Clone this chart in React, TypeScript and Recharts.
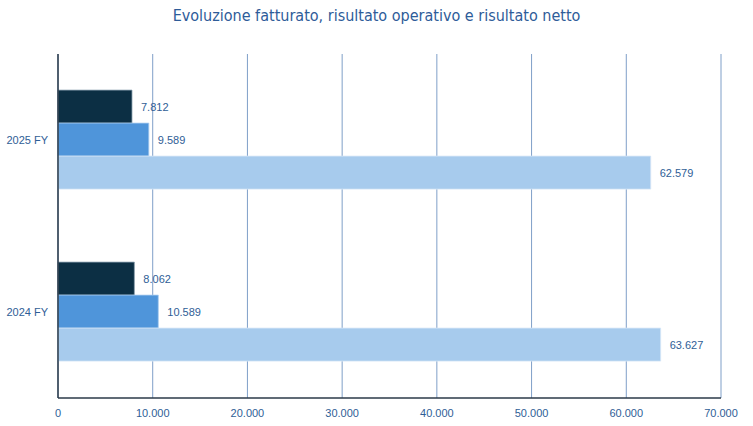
import React from 'react';
import { BarChart, Bar, XAxis, YAxis, CartesianGrid, LabelList } from 'recharts';

document.body.style.margin = '0';

const categories = ['2025 FY', '2024 FY'];
const risultatoNetto = [7812, 8062];
const risultatoOperativo = [9589, 10589];
const fatturato = [62579, 63627];
const xTicks = [0, 10000, 20000, 30000, 40000, 50000, 60000, 70000];

const data = categories.map((c, i) => ({
  name: c,
  netto: risultatoNetto[i],
  operativo: risultatoOperativo[i],
  fatturato: fatturato[i],
}));

// italian style thousands separator
const fmtThousands = (v: number) => String(v).replace(/\B(?=(\d{3})+(?!\d))/g, '.');

const textColor = '#2f5e96';
const font = '"Liberation Sans", Arial, sans-serif';

export default function App() {
  return (
    <div style={{ position: 'relative', width: 753, height: 426, background: '#fff' }}>
      <div
        style={{
          position: 'absolute',
          top: 6,
          left: 0,
          width: 753,
          textAlign: 'center',
          fontFamily: '"Liberation Sans Narrow", "DejaVu Sans Condensed", sans-serif',
          fontSize: 16,
          color: '#2e5c99',
        }}
      >
        Evoluzione fatturato, risultato operativo e risultato netto
      </div>
      <BarChart
        width={753}
        height={426}
        data={data}
        layout="vertical"
        margin={{ top: 54, right: 32, bottom: 0, left: 0 }}
        barCategoryGap="21%"
        barGap={0}
      >
        <CartesianGrid horizontal={false} stroke="#7f9fc8" strokeWidth={1} />
        <XAxis
          type="number"
          domain={[0, 70000]}
          ticks={xTicks}
          tickFormatter={fmtThousands}
          height={28}
          axisLine={{ stroke: '#2b3a48', strokeWidth: 1.5 }}
          tickLine={false}
          tick={{ fill: textColor, fontSize: 11, fontFamily: font, dy: 3 }}
        />
        <YAxis
          type="category"
          dataKey="name"
          width={58}
          axisLine={{ stroke: '#2b3a48', strokeWidth: 1.5 }}
          tickLine={false}
          tick={{ fill: textColor, fontSize: 11, fontFamily: font, dx: -2 }}
        />
        <Bar dataKey="netto" fill="#0c2f44" stroke="#8aa0ae" strokeWidth={0.8} isAnimationActive={false}>
          <LabelList dataKey="netto" position="right" offset={9} formatter={(v: any) => fmtThousands(v)} fill={textColor} fontSize={11} fontFamily={font} />
        </Bar>
        <Bar dataKey="operativo" fill="#4f95da" stroke="#a9cbef" strokeWidth={0.8} isAnimationActive={false}>
          <LabelList dataKey="operativo" position="right" offset={9} formatter={(v: any) => fmtThousands(v)} fill={textColor} fontSize={11} fontFamily={font} />
        </Bar>
        <Bar dataKey="fatturato" fill="#a7cbed" stroke="#d6e6f7" strokeWidth={0.8} isAnimationActive={false}>
          <LabelList dataKey="fatturato" position="right" offset={9} formatter={(v: any) => fmtThousands(v)} fill={textColor} fontSize={11} fontFamily={font} />
        </Bar>
      </BarChart>
    </div>
  );
}
